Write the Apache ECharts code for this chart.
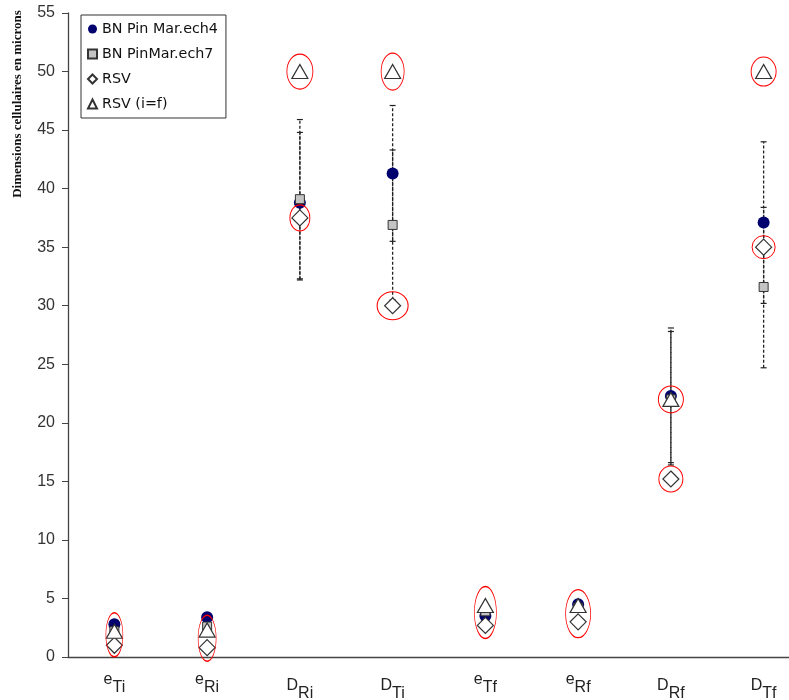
<!DOCTYPE html>
<html><head><meta charset="utf-8">
<script src="https://cdn.jsdelivr.net/npm/echarts@6/dist/echarts.min.js"></script>
<style>html,body{margin:0;padding:0;background:#fff}#c{width:789px;height:700px}</style>
</head><body><div id="c"></div>
<script>
// ---- data ----
const categories = [['sup','e','normE','Ti'],['sup','e','normE','Ri'],['normD','D','sub','Ri'],['normD','D','sub','Ti'],
                    ['sup','e','normE','Tf'],['sup','e','normE','Rf'],['normD','D','sub','Rf'],['normD','D','sub','Tf']];
const seriesNames = ['BN Pin Mar.ech4','BN PinMar.ech7','RSV','RSV (i=f)'];
const ech4 = [2.8, 3.4, 38.8, 41.3, 3.5, 4.5, 22.3, 37.1];
const ech7 = [2.2, 2.6, 39.1, 36.9, 3.9, 4.2, 22.0, 31.6];
const rsv = [1.0, 0.8, 37.5, 30.0, 2.7, 3.0, 15.2, 35.0];
const rsvIf = [2.2, 2.3, 50, 50, 4.4, 4.4, 22.0, 50];
const ech4Low  = [null, null, 32.3, 35.5, null, null, 16.6, 30.2];
const ech4High = [null, null, 45.9, 47.1, null, null, 28.1, 44.0];
const ech7Low  = [null, null, 32.2, 30.5, null, null, 16.4, 24.7];
const ech7High = [null, null, 44.8, 43.3, null, null, 27.8, 38.4];
// highlighted points (red ellipses): category index, centre value
const highlightCat = [0, 1, 2, 2, 3, 3, 4, 5, 6, 6, 7, 7];
const highlightVal = [1.9, 1.6, 50, 37.5, 50, 30, 3.8, 3.7, 22.0, 15.2, 50, 35.0];
const yTicks = {min: 0, max: 55, interval: 5};

// ---- styles ----
const ellipseSizes = [[17,44],[18,46],[26,35],[20,26],[23,37],[31,28],[22,52],[25,48],[25,27],[24,26],[25,29],[23,23]];
const narrow = '"Liberation Sans Narrow", "Arial Narrow", "Liberation Sans", Arial, sans-serif';

const chart = echarts.init(document.getElementById('c'));
const labelText = categories.map(c => '{' + c[0] + '|' + c[1] + '}{' + c[2] + '|' + c[3] + '}');

function errSeries(low, high) {
  const data = [];
  low.forEach((l, i) => { if (l != null) data.push([i, l, high[i]]); });
  return {
    type: 'custom', silent: true, z: 1,
    data: data,
    encode: {x: 0, y: [1, 2]},
    renderItem: function (params, api) {
      const x = api.value(0);
      const p1 = api.coord([x, api.value(1)]);
      const p2 = api.coord([x, api.value(2)]);
      const st = {stroke: '#222', lineWidth: 1.2};
      return {type: 'group', children: [
        {type: 'line', shape: {x1: p1[0], y1: p1[1], x2: p2[0], y2: p2[1]}, style: {stroke: '#222', lineWidth: 1.3, lineDash: [3, 2]}},
        {type: 'line', shape: {x1: p1[0] - 3, y1: p1[1], x2: p1[0] + 3, y2: p1[1]}, style: st},
        {type: 'line', shape: {x1: p2[0] - 3, y1: p2[1], x2: p2[0] + 3, y2: p2[1]}, style: st}
      ]};
    }
  };
}

const pts = arr => arr.map((v, i) => [i, v]);
const tok = pad => ({fontSize: 16, fontFamily: narrow, color: '#222', lineHeight: 16, padding: pad});

chart.setOption({
  animation: false,
  backgroundColor: '#fff',
  grid: {left: 68, top: 13, height: 644, width: 742, outerBoundsMode: 'none', containLabel: false},
  legend: {
    orient: 'vertical', left: 81, top: 15,
    data: seriesNames,
    borderColor: '#333', borderWidth: 1, backgroundColor: '#fff',
    padding: [7, 8, 7, 6], itemGap: 11, itemWidth: 9, itemHeight: 9,
    textStyle: {fontFamily: '"DejaVu Sans", Verdana, sans-serif', fontSize: 14.3, lineHeight: 14, color: '#111'}
  },
  xAxis: {
    type: 'category', data: labelText,
    axisLine: {lineStyle: {color: '#444', width: 1.3}},
    axisTick: {length: 4, lineStyle: {color: '#444'}},
    axisLabel: {
      interval: 0, margin: 23, color: '#222', fontFamily: narrow, fontSize: 16,
      rich: {
        sup: tok([0, 0, 16, 0]),
        normE: tok([0, 0, 0, 0]),
        normD: tok([0, 0, 5, 0]),
        sub: tok([11, 0, 0, 0])
      }
    },
    splitLine: {show: false}
  },
  yAxis: {
    type: 'value', min: yTicks.min, max: yTicks.max, interval: yTicks.interval,
    axisLine: {show: true, lineStyle: {color: '#444', width: 1.3}},
    axisTick: {show: true, length: 6, lineStyle: {color: '#444'}},
    axisLabel: {margin: 13, color: '#333', fontFamily: narrow, fontSize: 16},
    splitLine: {show: false}
  },
  graphic: [{
    type: 'text', x: 18, y: 104, rotation: Math.PI / 2,
    style: {text: 'Dimensions cellulaires en microns', font: 'bold 13px "Liberation Serif", "Times New Roman", serif',
            fill: '#111', align: 'center', verticalAlign: 'middle'}
  }],
  series: [
    errSeries(ech4Low, ech4High),
    errSeries(ech7Low, ech7High),
    {name: seriesNames[0], type: 'scatter', z: 2, data: pts(ech4), symbol: 'circle', symbolSize: 12,
     itemStyle: {color: '#00006e', opacity: 1}},
    {name: seriesNames[1], type: 'scatter', z: 3, data: pts(ech7), symbol: 'rect', symbolSize: 9,
     itemStyle: {color: '#c4c4c4', borderColor: '#333', borderWidth: 1, opacity: 1}},
    {name: seriesNames[2], type: 'scatter', z: 4, data: pts(rsv), symbol: 'diamond', symbolSize: [16, 16],
     itemStyle: {color: '#fff', borderColor: '#333', borderWidth: 1.2, opacity: 1}},
    {name: seriesNames[3], type: 'scatter', z: 5, data: pts(rsvIf), symbol: 'triangle', symbolSize: [16, 14],
     itemStyle: {color: '#fff', borderColor: '#333', borderWidth: 1.2, opacity: 1}},
    {name: 'highlight', type: 'scatter', z: 6, silent: true,
     data: highlightCat.map((c, i) => ({value: [c, highlightVal[i]], symbolSize: ellipseSizes[i]})),
     symbol: 'circle',
     itemStyle: {color: 'rgba(0,0,0,0)', borderColor: '#f00', borderWidth: 1, opacity: 1}}
  ]
});
</script>
</body></html>
